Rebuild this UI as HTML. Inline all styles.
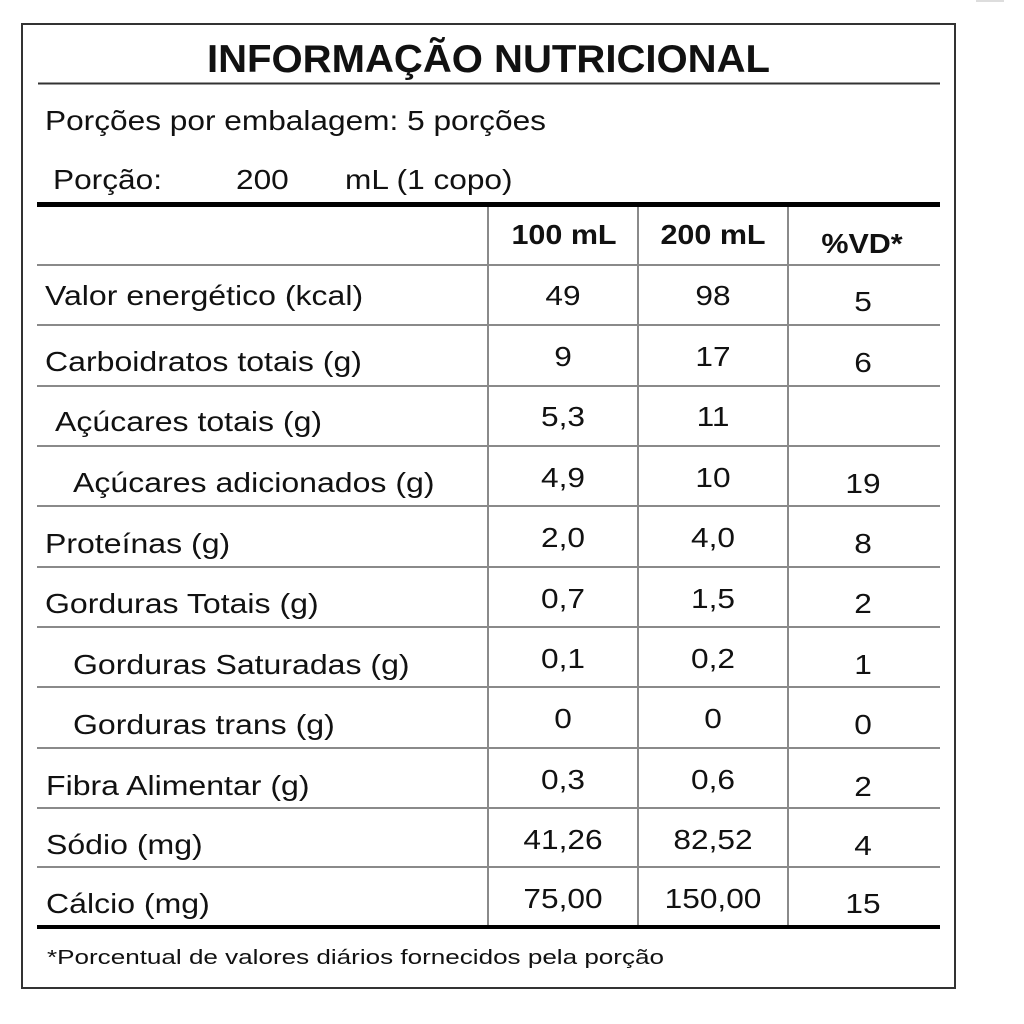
<!DOCTYPE html>
<html>
<head>
<meta charset="utf-8">
<style>
  html,body{margin:0;padding:0;background:#fff;}
  svg{display:block;}
  text{font-family:"Liberation Sans",Arial,sans-serif;fill:#111;}
</style>
</head>
<body>
<svg width="1024" height="1024" viewBox="0 0 1024 1024" xmlns="http://www.w3.org/2000/svg">
  <rect x="0" y="0" width="1024" height="1024" fill="#fff"/>
  <rect x="976" y="0" width="28" height="2" fill="#ddd"/>
  <!-- outer box -->
  <rect x="22" y="24" width="933" height="964" fill="none" stroke="#333" stroke-width="2"/>

  <!-- title -->
  <text x="207" y="72" font-size="39" font-weight="bold" textLength="563" lengthAdjust="spacingAndGlyphs">INFORMAÇÃO NUTRICIONAL</text>
  <rect x="38" y="82.5" width="902" height="2" fill="#333"/>

  <text transform="translate(45,130) scale(1.13,1)" font-size="28">Porções por embalagem: 5 porções</text>
  <text transform="translate(53,189) scale(1.13,1)" font-size="28">Porção:</text>
  <text transform="translate(236,189) scale(1.13,1)" font-size="28">200</text>
  <text transform="translate(345,189) scale(1.13,1)" font-size="28">mL (1 copo)</text>

  <!-- thick line -->
  <rect x="37" y="202" width="903" height="5" fill="#000"/>

  <!-- row lines -->
  <g fill="#8a8a8a">
    <rect x="37" y="264" width="903" height="2"/>
    <rect x="37" y="324" width="903" height="2"/>
    <rect x="37" y="385" width="903" height="2"/>
    <rect x="37" y="445" width="903" height="2"/>
    <rect x="37" y="505" width="903" height="2"/>
    <rect x="37" y="566" width="903" height="2"/>
    <rect x="37" y="626" width="903" height="2"/>
    <rect x="37" y="686" width="903" height="2"/>
    <rect x="37" y="747" width="903" height="2"/>
    <rect x="37" y="807" width="903" height="2"/>
    <rect x="37" y="866" width="903" height="2"/>
    <!-- column lines -->
    <rect x="487" y="207" width="2" height="719"/>
    <rect x="637" y="207" width="2" height="719"/>
    <rect x="787" y="207" width="2" height="719"/>
  </g>
  <rect x="37" y="925" width="903" height="4" fill="#000"/>

  <!-- header -->
  <text transform="translate(564,244) scale(1.09,1)" font-size="28" font-weight="bold" text-anchor="middle">100 mL</text>
  <text transform="translate(713,244) scale(1.09,1)" font-size="28" font-weight="bold" text-anchor="middle">200 mL</text>
  <text transform="translate(862,253) scale(1.09,1)" font-size="28" font-weight="bold" text-anchor="middle">%VD*</text>

  <!-- labels -->
  <g font-size="28">
    <text transform="translate(45,305) scale(1.145,1)">Valor energético (kcal)</text>
    <text transform="translate(45,371) scale(1.145,1)">Carboidratos totais (g)</text>
    <text transform="translate(55,431) scale(1.145,1)">Açúcares totais (g)</text>
    <text transform="translate(73,492) scale(1.145,1)">Açúcares adicionados (g)</text>
    <text transform="translate(45,553) scale(1.145,1)">Proteínas (g)</text>
    <text transform="translate(45,613) scale(1.145,1)">Gorduras Totais (g)</text>
    <text transform="translate(73,674) scale(1.145,1)">Gorduras Saturadas (g)</text>
    <text transform="translate(73,734) scale(1.145,1)">Gorduras trans (g)</text>
    <text transform="translate(46,795) scale(1.145,1)">Fibra Alimentar (g)</text>
    <text transform="translate(46,854) scale(1.145,1)">Sódio (mg)</text>
    <text transform="translate(46,913) scale(1.145,1)">Cálcio (mg)</text>
  </g>

  <!-- values -->
  <g font-size="28" text-anchor="middle">
    <text transform="translate(563,305) scale(1.13,1)">49</text>
    <text transform="translate(713,305) scale(1.13,1)">98</text>
    <text transform="translate(863,311) scale(1.13,1)">5</text>

    <text transform="translate(563,366) scale(1.13,1)">9</text>
    <text transform="translate(713,366) scale(1.13,1)">17</text>
    <text transform="translate(863,372) scale(1.13,1)">6</text>

    <text transform="translate(563,426) scale(1.13,1)">5,3</text>
    <text transform="translate(713,426) scale(1.13,1)">11</text>

    <text transform="translate(563,487) scale(1.13,1)">4,9</text>
    <text transform="translate(713,487) scale(1.13,1)">10</text>
    <text transform="translate(863,493) scale(1.13,1)">19</text>

    <text transform="translate(563,547) scale(1.13,1)">2,0</text>
    <text transform="translate(713,547) scale(1.13,1)">4,0</text>
    <text transform="translate(863,553) scale(1.13,1)">8</text>

    <text transform="translate(563,608) scale(1.13,1)">0,7</text>
    <text transform="translate(713,608) scale(1.13,1)">1,5</text>
    <text transform="translate(863,613) scale(1.13,1)">2</text>

    <text transform="translate(563,668) scale(1.13,1)">0,1</text>
    <text transform="translate(713,668) scale(1.13,1)">0,2</text>
    <text transform="translate(863,674) scale(1.13,1)">1</text>

    <text transform="translate(563,728) scale(1.13,1)">0</text>
    <text transform="translate(713,728) scale(1.13,1)">0</text>
    <text transform="translate(863,734) scale(1.13,1)">0</text>

    <text transform="translate(563,789) scale(1.13,1)">0,3</text>
    <text transform="translate(713,789) scale(1.13,1)">0,6</text>
    <text transform="translate(863,796) scale(1.13,1)">2</text>

    <text transform="translate(563,849) scale(1.13,1)">41,26</text>
    <text transform="translate(713,849) scale(1.13,1)">82,52</text>
    <text transform="translate(863,855) scale(1.13,1)">4</text>

    <text transform="translate(563,908) scale(1.13,1)">75,00</text>
    <text transform="translate(713,908) scale(1.13,1)">150,00</text>
    <text transform="translate(863,913) scale(1.13,1)">15</text>
  </g>

  <!-- footer -->
  <text x="47" y="964" font-size="20" textLength="617" lengthAdjust="spacingAndGlyphs">*Porcentual de valores diários fornecidos pela porção</text>
</svg>
</body>
</html>
